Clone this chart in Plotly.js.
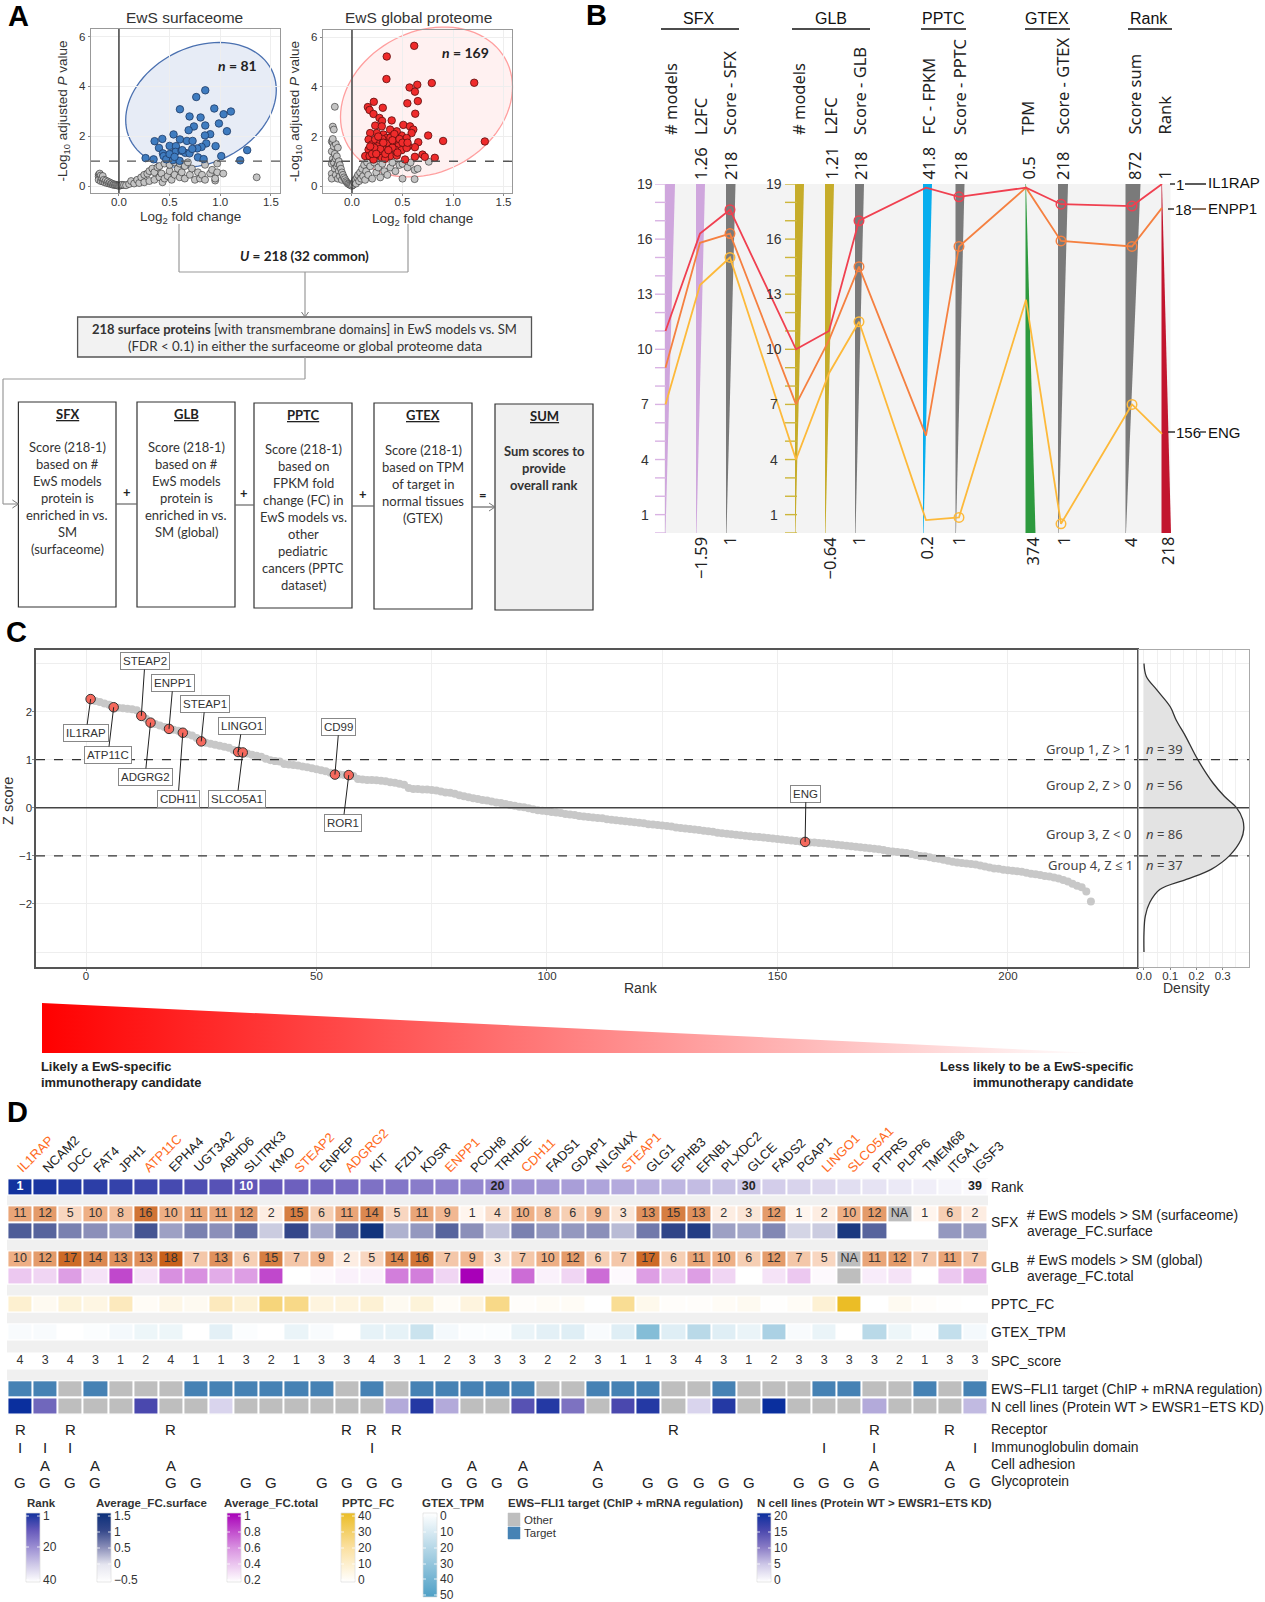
<!DOCTYPE html>
<html><head><meta charset="utf-8">
<script src="https://cdn.plot.ly/plotly-3.0.1.min.js"></script>
<style>html,body{margin:0;padding:0;background:#fff;overflow:hidden}</style></head>
<body><div id="chart" style="width:1265px;height:1602px"></div>
<script>
const W=1265,H=1602;
const SANS='"Liberation Sans",Arial,sans-serif', LATO='Lato,"Open Sans",sans-serif', NOTO='"Noto Sans","Open Sans",sans-serif';

/* ---------- Panel A data ---------- */
const surfHitX=[.852,.763,.602,.941,1.105,1.033,.697,.806,.987,.74,.688,1.066,.852,.539,.901,.849,.602,.428,.352,.671,.727,.862,.816,.954,.395,.5,.5625,.773,1.266,1.197,1.01,.263,.342,.434,.441,.533,.559,.618,.655,.697,.78,.836,.467,.533,.599,.5,.549,.625,.724];
const surfHitY=[3.84,3.57,3.08,3.11,2.99,2.88,2.79,2.75,2.51,2.39,2.24,2.2,2.43,2.07,2.08,2.03,1.87,1.89,1.8,1.81,1.81,1.71,1.57,1.6,1.53,1.61,1.6,1.51,1.44,1.03,1.2,1.12,1.07,1.31,1.2,1.31,1.37,1.41,1.33,1.31,1.15,1.08,1.07,1.04,1.01,1.28,1.17,1.44,1.49];
const surfBgX=[-.2,-.2,-.19,-.19,-.2,-.18,-.18,-.17,-.16,-.16,-.15,-.14,-.13,-.12,-.11,-.1,-.09,-.08,-.07,-.06,-.05,-.04,-.03,-.02,-.01,0,.01,.02,.03,.05,.07,.1,.12,.15,.18,.2,.22,.25,.25,.28,.3,.3,.33,.35,.35,.38,.4,.4,.42,.43,.45,.45,.48,.5,.5,.52,.55,.55,.58,.6,.6,.62,.65,.65,.68,.7,.72,.75,.78,.8,.82,.85,.85,.9,.92,.95,.97,.97,1.03,1.36,.95];
const surfBgY=[.45,.38,.5,.3,.25,.42,.2,.3,.4,.18,.25,.15,.22,.12,.18,.1,.14,.08,.1,.05,.07,.04,.05,.03,.02,.01,.02,.03,.05,.04,.03,.08,.2,.1,.25,.12,.35,.15,.45,.5,.2,.6,.7,.25,.55,.75,.35,.8,.5,.15,.3,.9,.4,.6,.85,.25,.45,.95,.7,.35,.9,.55,.3,.8,.95,.45,.7,.25,.55,.3,.45,.85,.25,.5,.65,.22,.9,.55,.5,.35,.3];
const globHitX=[.616,.344,.341,1.21,.79,.646,.57,.623,.652,.548,.216,.305,.157,.174,.213,.626,.272,.298,.393,.23,.295,.508,.574,.607,.754,.902,1.315,.656,.623,.557,.492,.59,.541,.443,.377,.311,.246,.18,.164,.197,.23,.279,.344,.393,.426,.459,.377,.311,.246,.164,.131,.174,.23,.279,.344,.426,.492,.541,.525,.623,.698,.721,.82,.377,.443,.295,.213,.328,.2,.25,.3,.35,.4,.45,.28,.33,.22,.26,.38,.42,.18,.24,.31,.36,.4,.47,.5,.55];
const globHitY=[5.66,5.23,4.32,4.17,4.16,4.09,3.98,3.81,3.43,3.34,3.4,3.16,3.19,3.07,2.91,2.92,2.75,2.63,2.65,2.44,2.41,2.47,2.41,2.28,2.04,1.82,1.8,1.77,1.57,1.61,2.04,2.14,1.94,2.21,2.28,2.08,2.14,2.14,1.88,1.68,1.88,1.74,1.94,2.01,1.81,1.61,1.61,1.47,1.41,1.47,1.21,1.21,1.21,1.27,1.34,1.47,1.45,1.54,1.07,1.18,1.27,1.18,1.14,1.21,1.23,1.14,1.07,1.1,1.3,1.6,1.9,1.75,1.55,1.35,1.5,1.3,1.55,2.0,1.95,2.1,1.6,1.3,1.75,1.45,1.85,1.9,1.75,1.75];
const globBgX=[-.2,-.19,-.2,-.19,-.2,-.2,-.2,-.18,-.18,-.17,-.17,-.16,-.16,-.16,-.15,-.15,-.14,-.14,-.14,-.13,-.13,-.12,-.12,-.11,-.1,-.1,-.09,-.08,-.07,-.06,-.05,-.04,-.03,-.02,-.01,0,-.17,-.19,-.18,-.19,.01,.02,.03,.04,.05,.06,.07,.08,.09,.1,.11,.12,.13,.14,.15,.16,.18,.2,.22,.24,.26,.28,.3,.32,.35,.38,.4,.43,.47,.5,.5,.55,.58,.62,.62,.65,.76];
const globBgY=[1.8,1.75,1.4,1.1,.9,.5,.3,1.6,.95,1.3,.7,1.7,1.1,.45,1.2,.8,1.55,.9,.3,1.0,.6,.85,.4,.7,.55,.25,.45,.35,.28,.2,.15,.1,.08,.05,.03,.01,3.2,2.4,2.28,1.9,.05,.15,.25,.1,.35,.45,.2,.55,.3,.7,.4,.85,.25,.6,.95,.45,.8,.3,.95,.55,.75,.35,.9,.6,.45,.75,.95,.6,.85,.3,.9,.75,.95,.28,.65,.7,.98];

/* ---------- Panel B data ---------- */
const axisNames=['# models','L2FC','Score - SFX','# models','L2FC','Score - GLB','FC - FPKM','Score - PPTC','TPM','Score - GTEX','Score sum','Rank'];
const axisLabelX=[671,700.5,730,799,830,860,928,960,1028,1062,1134,1164];
const axisX=[665.5,700,730,796,829,859,926,959,1026,1061,1132,1162];
const axisTop=['','1.26','218','','1.21','218','41.8','218','0.5','218','872','1'];
const axisBottom=['','−1.59','1','','−0.64','1','0.2','1','374','1','4','218'];
const axisBottomX=[0,700,729,0,829,858,926,958,1032,1063,1130,1167];
const wedgeLeft=[665,696,726,795,825,855,923,955.5,1025.5,1058,1125.5,1161.5];
const wedgeTopW=[10,9,9.5,9,9,9,9,9,0.5,10,15,0.5];
const wedgeBotW=[0.5,0.5,0.5,0.5,0.5,0.5,0.5,0.5,10,0.5,0.5,9.5];
const wedgeColor=['#cfa6dd','#cfa6dd','#7a7a7a','#c6ac2a','#c6ac2a','#7a7a7a','#08aeee','#7a7a7a','#2d9a3e','#7a7a7a','#7a7a7a','#c2152e'];
const seriesIL1RAP=[11,16.3,17.6,10,11,17,18.8,18.3,18.8,17.9,17.8,19];
const seriesENPP1=[9,15.8,16.3,7,10.5,14.5,5.3,15.6,18.8,15.9,15.6,17.7];
const seriesENG=[7,13.5,15,4,8.7,11.5,0.7,0.85,12.7,0.5,7,5.4];
const scoreAxes=[2,5,7,9,10];
const bTickVals=[0,1,2,3,4,5,6,7,8,9,10,11,12,13,14,15,16,17,18,19];
const bTickLabels=[1,4,7,10,13,16,19];

/* ---------- Panel C data ---------- */
const zScore=[2.26,2.22,2.20,2.17,2.14,2.09,2.08,2.07,2.06,2.05,2.03,1.91,1.85,1.77,1.74,1.71,1.68,1.64,1.62,1.60,1.56,1.53,1.50,1.45,1.38,1.35,1.33,1.31,1.29,1.27,1.25,1.20,1.16,1.15,1.13,1.10,1.08,1.06,1.02,0.99,0.97,0.96,0.91,0.90,0.89,0.88,0.86,0.84,0.82,0.80,0.78,0.76,0.73,0.69,0.69,0.68,0.68,0.66,0.60,0.59,0.58,0.58,0.57,0.56,0.55,0.53,0.52,0.50,0.48,0.41,0.39,0.39,0.38,0.38,0.37,0.36,0.34,0.32,0.31,0.29,0.26,0.24,0.22,0.20,0.18,0.16,0.15,0.13,0.11,0.10,0.08,0.06,0.04,0.02,0.01,-0.01,-0.03,-0.05,-0.06,-0.07,-0.09,-0.10,-0.11,-0.13,-0.14,-0.15,-0.17,-0.18,-0.19,-0.20,-0.21,-0.22,-0.24,-0.25,-0.26,-0.27,-0.28,-0.29,-0.30,-0.31,-0.32,-0.34,-0.35,-0.36,-0.37,-0.38,-0.39,-0.41,-0.42,-0.43,-0.44,-0.45,-0.46,-0.48,-0.49,-0.50,-0.52,-0.53,-0.54,-0.55,-0.56,-0.57,-0.58,-0.59,-0.60,-0.61,-0.62,-0.63,-0.64,-0.65,-0.66,-0.67,-0.68,-0.69,-0.70,-0.71,-0.72,-0.72,-0.73,-0.74,-0.75,-0.76,-0.77,-0.78,-0.79,-0.80,-0.81,-0.82,-0.83,-0.84,-0.85,-0.86,-0.88,-0.90,-0.91,-0.92,-0.93,-0.94,-0.96,-0.98,-1.00,-1.01,-1.03,-1.05,-1.06,-1.08,-1.10,-1.12,-1.14,-1.15,-1.16,-1.17,-1.18,-1.20,-1.22,-1.24,-1.26,-1.27,-1.29,-1.30,-1.31,-1.32,-1.33,-1.35,-1.37,-1.38,-1.40,-1.42,-1.43,-1.45,-1.47,-1.50,-1.53,-1.58,-1.62,-1.65,-1.74,-1.95];
const calloutNames=['IL1RAP','ATP11C','STEAP2','ADGRG2','ENPP1','CDH11','STEAP1','LINGO1','SLCO5A1','CD99','ROR1','ENG'];
const calloutRanks=[1,6,12,14,18,21,25,33,34,54,57,156];
const calloutLabelX=[86,108,145,145,173,178,205,242,237,339,343,806];
const calloutLabelY=[733,755,661,777,683,799,704,726,799,727,823,794];
const densityZ=[3.0,2.73,2.45,2.1,1.82,1.49,1.0,.52,.24,0,-.24,-.45,-.66,-1,-1.28,-1.49,-1.7,-1.97,-2.25,-2.6,-3];
const densityD=[0,.009,.049,.1,.123,.158,.205,.262,.306,.353,.376,.38,.37,.325,.256,.161,.06,.022,.005,0,0];
const groupText=['Group 1, Z > 1','Group 2, Z > 0','Group 3, Z < 0','Group 4, Z ≤ 1'];
const groupN=[39,56,86,37];

/* ---------- Panel D data ---------- */
const genes=['IL1RAP','NCAM2','DCC','FAT4','JPH1','ATP11C','EPHA4','UGT3A2','ABHD6','SLITRK3','KMO','STEAP2','ENPEP','ADGRG2','KIT','FZD1','KDSR','ENPP1','PCDH8','TRHDE','CDH11','FADS1','GDAP1','NLGN4X','STEAP1','GLG1','EPHB3','EFNB1','PLXDC2','GLCE','FADS2','PGAP1','LINGO1','SLCO5A1','PTPRS','PLPP6','TMEM68','ITGA1','IGSF3'];
const highlighted=['IL1RAP','ATP11C','STEAP2','ADGRG2','ENPP1','CDH11','STEAP1','LINGO1','SLCO5A1'];
const rankVals=genes.map((g,i)=>i+1);
const sfxCount=[11,12,5,10,8,16,10,11,11,12,2,15,6,11,14,5,11,9,1,4,10,8,6,9,3,13,15,13,2,3,12,1,2,10,12,null,1,6,2];
const fcSurface=[.85,.8,.6,.5,.4,.9,.4,.6,.5,.75,.15,1.0,.35,.8,1.4,.3,.45,.8,.5,.2,.6,.45,.45,.5,.25,.65,1.05,1.2,.4,.35,.55,.1,.15,1.3,.8,-.5,-.5,.45,.4];
const glbCount=[10,12,17,14,13,13,18,7,13,6,15,7,9,2,5,14,16,7,9,3,7,10,12,6,7,17,6,11,10,6,12,7,5,null,11,12,7,11,7];
const fcTotal=[.4,.35,.55,.3,.8,.3,.6,.6,.5,.55,.8,.2,.22,.25,.25,.65,.65,.35,1.0,.25,.7,.25,.35,.7,.22,.55,.4,.55,.35,.2,.3,.4,.22,null,.27,.3,.2,.4,.5];
const pptcFC=[10,3,8,6,14,2,5,3,14,9,26,24,7,7,9,3,8,2,7,24,1,2,2,0,22,4,1,1,2,3,.5,2,9,40,0,3,1,.5,0];
const gtexTPM=[2,2,0,1,3,5,5,0,8,1,0,6,2,0,7,7,15,3,1,1,6,8,9,2,9,35,9,20,9,6,24,2,6,0,20,5,1,17,3];
const spcScore=[4,3,4,3,1,2,4,1,1,3,2,1,3,3,4,3,1,2,3,3,3,2,2,3,1,1,3,4,3,1,2,3,3,3,3,2,1,3,3];
const ewsTarget=[1,1,0,1,0,0,0,1,1,1,1,1,1,0,1,0,1,1,1,1,1,0,0,1,1,1,0,0,1,0,0,0,1,1,0,0,1,0,1];
const nCellLines=[20,12,null,null,null,15,null,null,4,null,null,null,null,null,null,7,18,7,null,null,14,18,11,null,15,18,null,4,18,null,20,null,null,null,7,null,null,null,6];
const rowPos=[.52,2.09,3.08,4.71,5.7,7.33,8.95,10.64,12.26,13.26];
const receptorIdx=[0,2,6,13,14,15,26,34,37];
const immunoIdx=[0,1,2,14,32,34,38];
const adhesionIdx=[1,3,6,18,20,23,34,37];
const glycoIdx=[0,1,2,3,6,7,9,10,12,13,14,15,17,18,19,20,23,25,26,27,28,29,31,32,33,34,37,38];
const csRank=[[0,'#12329e'],[.25,'#6659bb'],[.5,'#9c8fd3'],[.75,'#cfc9e8'],[1,'#ffffff']];
const csSurface=[[0,'#ffffff'],[.25,'#e6e6f0'],[.5,'#8b8fb9'],[.75,'#34478a'],[1,'#0a2f7a']];
const csTotal=[[0,'#ffffff'],[.5,'#d890e0'],[1,'#a800b8']];
const csPPTC=[[0,'#ffffff'],[.5,'#fbe0a0'],[1,'#ebbd26']];
const csGTEX=[[0,'#ffffff'],[1,'#4fa0c6']];
const csN=[[0,'#ffffff'],[.25,'#cfc9e8'],[.5,'#8a7cc6'],[.75,'#4a48ae'],[1,'#0a2f9e']];
const csCount=[[0,'#fff5ee'],[.5,'#f0b48c'],[1,'#c8601a']];

/* ---------- helpers ---------- */
const X=x=>x/W, Y=y=>1-y/H;
const domX=(a,b)=>[a/W,b/W], domY=(a,b)=>[1-b/H,1-a/H];
const traces=[],shapes=[],ann=[];
function T(text,x,y,o={}){const{size=13,color='#222',family=SANS,xa='center',ya='middle',angle=0}=o;
  ann.push({text,xref:'paper',yref:'paper',x:X(x),y:Y(y),xanchor:xa,yanchor:ya,textangle:angle,showarrow:false,font:{size,color,family},borderpad:0,borderwidth:0});}
function L(x0,y0,x1,y1,color='#888',width=1.2,dash='solid',layer='above'){shapes.push({type:'line',xref:'paper',yref:'paper',x0:X(x0),y0:Y(y0),x1:X(x1),y1:Y(y1),line:{color,width,dash},layer});}
function R(x0,y0,x1,y1,line,fill,width=1.2,layer='below'){shapes.push({type:'rect',xref:'paper',yref:'paper',x0:X(x0),y0:Y(y0),x1:X(x1),y1:Y(y1),line:{color:line,width},fillcolor:fill,layer});}
function chevron(x,y){L(x-6,y-4,x,y,'#777',1);L(x-6,y+4,x,y,'#777',1);}
function ellipse(cx,cy,hx,hy,r,stroke,fill){let p=[];const s=Math.sqrt(1-r*r);
  for(let i=0;i<90;i++){const t=i/90*2*Math.PI;const x=cx+hx*Math.cos(t),y=cy+hy*(r*Math.cos(t)+s*Math.sin(t));p.push((i?'L':'M')+X(x).toFixed(5)+' '+Y(y).toFixed(5));}
  shapes.push({type:'path',xref:'paper',yref:'paper',path:p.join(' ')+' Z',line:{color:stroke,width:1.3},fillcolor:fill,layer:'below'});}

/* ---------- Panel A ---------- */
ellipse(201,105,75.3,62.5,-0.24,'#4a70b0','rgba(70,110,185,0.13)');
ellipse(426.5,102,86,75,-0.2,'#ff9f9f','rgba(255,190,190,0.22)');
const GRAYDOT={color:'#c4c4c4',size:7,line:{color:'rgba(30,30,30,0.8)',width:0.7}};
function sc(xa,ya,x,y,marker){traces.push({type:'scatter',mode:'markers',x,y,xaxis:xa,yaxis:ya,marker,hoverinfo:'skip',showlegend:false});}
sc('x','y',surfBgX,surfBgY,GRAYDOT);
sc('x','y',surfHitX,surfHitY,{color:'#3f7cc0',size:7.5,line:{color:'#1d3a66',width:0.8}});
sc('x2','y2',globBgX,globBgY,GRAYDOT);
sc('x2','y2',globHitX,globHitY,{color:'#ef2b2b',size:7.5,line:{color:'#5a0d0d',width:0.8}});
T('EwS surfaceome',185,17,{size:15.5,color:'#333'});
T('EwS global proteome',418,17,{size:15.5,color:'#333'});
T('Log<sub>2</sub> fold change',190,217,{size:13.5,color:'#333'});
T('Log<sub>2</sub> fold change',422,219,{size:13.5,color:'#333'});
T('<b><i>n</i> = 81</b>',237,66,{size:14,family:LATO,color:'#222'});
T('<b><i>n</i> = 169</b>',465,53,{size:14,family:LATO,color:'#222'});
[['x domain','y'],['x2 domain','y2']].forEach(([a,b])=>shapes.push({type:'line',xref:a,yref:b,x0:0,x1:1,y0:1,y1:1,line:{color:'#555',width:1.4,dash:'dash'}}));
[['x','y domain'],['x2','y2 domain']].forEach(([a,b])=>shapes.push({type:'line',xref:a,yref:b,x0:0,x1:0,y0:0,y1:1,line:{color:'#333',width:1.4}}));

/* flow diagram */
const G='#999';
L(179,224,179,272,G);L(408,224,408,272,G);L(179,272,408,272,G);
T('<b><i>U</i> = 218 (32 common)</b>',304.5,256,{size:13.5,family:LATO,color:'#222'});
L(305,272,305,317,G);
L(301.5,312,305,317,'#777',1);L(308.5,312,305,317,'#777',1);
R(77.6,317,531.5,357,'#555','#f2f2f2',1.3);
T('<b>218 surface proteins</b> [with transmembrane domains] in EwS models vs. SM',304.5,329,{size:13,family:LATO,color:'#333'});
T('(FDR < 0.1) in either the surfaceome or global proteome data',304.5,346,{size:13.3,family:LATO,color:'#333'});
L(305,357,305,379,G);L(305,379,3,379,G);L(3,379,3,504,G);L(3,504,18.4,504,G);chevron(18.4,504);
const boxes=[
 {x0:18.4,x1:116,y0:402,y1:607,title:'SFX',t0:447,lines:['Score (218-1)','based on #','EwS models','protein is','enriched in vs.','SM','(surfaceome)']},
 {x0:137,x1:235,y0:402,y1:607,title:'GLB',t0:447,lines:['Score (218-1)','based on #','EwS models','protein is','enriched in vs.','SM (global)']},
 {x0:254,x1:352,y0:403,y1:608,title:'PPTC',t0:449,lines:['Score (218-1)','based on','FPKM fold','change (FC) in','EwS models vs.','other','pediatric','cancers (PPTC','dataset)']},
 {x0:374,x1:472,y0:403,y1:609,title:'GTEX',t0:450,lines:['Score (218-1)','based on TPM','of target in','normal tissues','(GTEX)']},
 {x0:495,x1:593,y0:404,y1:610,title:'SUM',t0:451,fill:'#f0f0f0',bold:true,lines:['Sum scores to','provide','overall rank']}];
boxes.forEach(b=>{R(b.x0,b.y0,b.x1,b.y1,'#333',b.fill||'#ffffff',1.2);
  T('<b><u>'+b.title+'</u></b>',(b.x0+b.x1)/2,b.y0+12,{size:13,family:LATO,color:'#222'});
  b.lines.forEach((s,i)=>T(b.bold?'<b>'+s+'</b>':s,(b.x0+b.x1)/2,b.t0+i*17,{size:13,family:LATO,color:'#333'}));});
L(116,504,137,504,'#666');L(235,505,254,505,'#666');L(352,506,374,506,'#666');L(472,507,495,507,'#666');chevron(495,507);
T('<b>+</b>',127,492,{size:13,family:LATO});T('<b>+</b>',244,493,{size:13,family:LATO});T('<b>+</b>',363,494,{size:13,family:LATO});T('<b>=</b>',483,495,{size:13,family:LATO});

/* ---------- Panel B ---------- */
shapes.push({type:'rect',xref:'x3',yref:'y3',x0:664,x1:1170.5,y0:0,y1:19,line:{width:0},fillcolor:'#f3f3f3',layer:'below'});
axisX.forEach((_,i)=>{const l=wedgeLeft[i];
 traces.push({type:'scatter',mode:'lines',xaxis:'x3',yaxis:'y3',x:[l,l+wedgeTopW[i],l+wedgeBotW[i],l,l],y:[19,19,0,0,19],fill:'toself',fillcolor:wedgeColor[i],line:{width:0,color:wedgeColor[i]},hoverinfo:'skip',showlegend:false});});
function tickTrace(x0,x1,color){const xs=[],ys=[];bTickVals.forEach(v=>{xs.push(x0,x1,null);ys.push(v,v,null);});
 traces.push({type:'scatter',mode:'lines',xaxis:'x3',yaxis:'y3',x:xs,y:ys,line:{color,width:1.4},hoverinfo:'skip',showlegend:false});}
tickTrace(655,666,'#d9b3e3');tickTrace(785,797,'#cdb63a');
[[seriesENG,'#fdb93a'],[seriesENPP1,'#f58040'],[seriesIL1RAP,'#f04050']].forEach(([s,c])=>{
 traces.push({type:'scatter',mode:'lines',xaxis:'x3',yaxis:'y3',x:axisX,y:s,line:{color:c,width:1.8},hoverinfo:'skip',showlegend:false});
 traces.push({type:'scatter',mode:'markers',xaxis:'x3',yaxis:'y3',x:scoreAxes.map(i=>axisX[i]),y:scoreAxes.map(i=>s[i]),marker:{symbol:'circle-open',size:9.5,color:c,line:{color:c,width:1.5}},hoverinfo:'skip',showlegend:false});});
bTickLabels.forEach(v=>{const y=533-v*18.37;T(String(v),645,y,{size:14,color:'#333'});T(String(v),774,y,{size:14,color:'#333'});});
[['SFX',698,661,739],['GLB',831,792,870],['PPTC',943,921,966],['GTEX',1047,1025,1070],['Rank',1149,1128,1172]].forEach(([t,c,a,b])=>{T(t,c,18,{size:16,color:'#111'});L(a,29,b,29,'#111',1.6);});
axisNames.forEach((n,i)=>{T(n,axisLabelX[i],135,{size:16.5,family:NOTO,color:'#222',angle:-90,ya:'bottom'});
 if(axisTop[i])T(axisTop[i],axisLabelX[i]+(i==4?1:0),180,{size:16.5,family:NOTO,color:'#222',angle:-90,ya:'bottom'});
 if(axisBottom[i])T(axisBottom[i],axisBottomX[i],537,{size:16.5,family:NOTO,color:'#222',angle:-90,ya:'top'});});
const RF={size:15,color:'#111'};
L(1170,184,1175,184,'#222',1.4);T('1',1180,184,RF);L(1185,184,1206,184,'#333',1.6);T('IL1RAP',1208,183,{...RF,xa:'left'});
L(1168,209,1174,209,'#222',1.4);T('18',1183,210,RF);L(1192,209,1206,209,'#6b4a34',1.6);T('ENPP1',1208,209,{...RF,xa:'left'});
L(1168,432,1175,432,'#222',1.4);T('156',1188,432,RF);L(1200,432,1206,432,'#333',1.4);T('ENG',1208,432,{...RF,xa:'left'});

/* ---------- Panel C ---------- */
const ranks=zScore.map((z,i)=>i+1);
sc('x4','y4',ranks,zScore,{color:'#c8c8c8',size:8});
sc('x4','y4',calloutRanks,calloutRanks.map(r=>zScore[r-1]),{color:'#f5695d',size:9.5,line:{color:'#333',width:1}});
calloutNames.forEach((n,i)=>{const r=calloutRanks[i],z=zScore[r-1];
 const px=86+r*4.61,py=808-z*48.2;
 ann.push({text:n,xref:'x4',yref:'y4',x:r,y:z,ax:calloutLabelX[i]-px,ay:calloutLabelY[i]-py,showarrow:true,arrowhead:0,arrowwidth:1,arrowcolor:'#222',standoff:0,bgcolor:'#ffffff',bordercolor:'#888',borderwidth:1,borderpad:2,font:{size:11.5,family:SANS,color:'#333'}});});
traces.push({type:'scatter',mode:'lines',xaxis:'x5',yaxis:'y5',x:densityD,y:densityZ,fill:'tozerox',fillcolor:'#e3e3e3',line:{color:'#333',width:1.3,shape:'spline'},hoverinfo:'skip',showlegend:false});
[['x4 domain','y4'],['x5 domain','y5']].forEach(([a,b])=>{
 [1,-1].forEach(v=>shapes.push({type:'line',xref:a,yref:b,x0:0,x1:1,y0:v,y1:v,line:{color:'#333',width:1.3,dash:'dash'}}));
 shapes.push({type:'line',xref:a,yref:b,x0:0,x1:1,y0:0,y1:0,line:{color:'#444',width:1.4}});});
[749,785,834,865].forEach((y,i)=>{T(groupText[i],i==3?1133:1131,y,{size:13,color:'#444',xa:'right',family:NOTO});T('<i>n</i> = '+groupN[i],1146,y,{size:13,color:'#444',xa:'left',family:NOTO});});
T('Rank',641,988,{size:14,color:'#333'});
T('Density',1186,988,{size:14,color:'#333'});
T('Z score',8,801,{size:14.5,color:'#333',angle:-90});

/* gradient triangle */
traces.push({type:'scatter',mode:'lines',xaxis:'x7',yaxis:'y7',x:[42,1095,42,42],y:[1003,1053,1053,1003],fill:'toself',fillgradient:{type:'horizontal',colorscale:[[0,'#ff0000'],[1,'#ffffff']]},line:{width:0},hoverinfo:'skip',showlegend:false});
T('<b>Likely a EwS-specific</b>',40.5,1066,{size:12.9,xa:'left',color:'#222'});
T('<b>immunotherapy candidate</b>',40.5,1082,{size:12.9,xa:'left',color:'#222'});
T('<b>Less likely to be a EwS-specific</b>',1133,1066,{size:12.9,xa:'right',color:'#222'});
T('<b>immunotherapy candidate</b>',1133,1082,{size:12.9,xa:'right',color:'#222'});

/* ---------- Panel D ---------- */
const colIdx=genes.map((g,i)=>i);
const XR=[-0.517,38.52];
function strip(a,b){shapes.push({type:'rect',xref:'x6',yref:'y6',x0:XR[0],x1:XR[1],y0:rowPos[a]-.5,y1:rowPos[b]+.5,line:{width:0},fillcolor:'#ffffff',layer:'below'});}
shapes.push({type:'rect',xref:'x6',yref:'y6',x0:XR[0],x1:XR[1],y0:0,y1:13.78,line:{width:0},fillcolor:'#f0f0f0',layer:'below'});
[[0,0],[1,2],[3,4],[5,5],[6,6],[7,7],[8,9]].forEach(([a,b])=>strip(a,b));
function hm(row,z,cs,zmin,zmax){traces.push({type:'heatmap',xaxis:'x6',yaxis:'y6',x:colIdx,y:[rowPos[row]],z:[z],colorscale:cs,zmin,zmax,showscale:false,xgap:2,ygap:2,hoverinfo:'skip'});
 const na=z.map(v=>v===null?1:null);
 if(na.some(v=>v))traces.push({type:'heatmap',xaxis:'x6',yaxis:'y6',x:colIdx,y:[rowPos[row]],z:[na],colorscale:[[0,'#bebebe'],[1,'#bebebe']],zmin:0,zmax:1,showscale:false,xgap:2,ygap:2,hoverinfo:'skip'});}
hm(0,rankVals,csRank,1,40);hm(1,sfxCount,csCount,1,18);hm(2,fcSurface,csSurface,-.5,1.5);hm(3,glbCount,csCount,1,18);hm(4,fcTotal,csTotal,.2,1);
hm(5,pptcFC,csPPTC,0,40);hm(6,gtexTPM,csGTEX,0,50);hm(8,ewsTarget,[[0,'#bebebe'],[1,'#4682b4']],0,1);hm(9,nCellLines,csN,0,20);
function cellText(row,vals,color='#333'){traces.push({type:'scatter',mode:'text',xaxis:'x6',yaxis:'y6',x:colIdx,y:colIdx.map(()=>rowPos[row]),text:vals.map(v=>v===null?'NA':String(v)),textfont:{size:12.5,family:SANS,color},textposition:'middle center',hoverinfo:'skip',showlegend:false});}
cellText(1,sfxCount);cellText(3,glbCount);cellText(7,spcScore);
const rankLabelIdx=[0,9,19,29,38];
traces.push({type:'scatter',mode:'text',xaxis:'x6',yaxis:'y6',x:rankLabelIdx,y:rankLabelIdx.map(()=>rowPos[0]),text:rankLabelIdx.map(i=>'<b>'+rankVals[i]+'</b>'),textfont:{size:12.5,family:SANS,color:rankLabelIdx.map(i=>i<10?'#ffffff':'#222')},textposition:'middle center',hoverinfo:'skip',showlegend:false});
genes.forEach((g,i)=>ann.push({text:g,xref:'x6',yref:'paper',x:i-.32,y:Y(1178),xanchor:'left',yanchor:'bottom',textangle:-45,showarrow:false,font:{size:13,family:SANS,color:highlighted.includes(g)?'#ff6a22':'#222'}}));
[[receptorIdx,'R',1429],[immunoIdx,'I',1447],[adhesionIdx,'A',1465],[glycoIdx,'G',1482]].forEach(([idx,ch,y])=>{
 idx.forEach(i=>T(ch,20+25.13*i,y,{size:15,color:'#222'}));});
const RL=991;
[['Rank',1187],['PPTC_FC',1304],['GTEX_TPM',1332],['SPC_score',1361],['EWS−FLI1 target (ChIP + mRNA regulation)',1389],['N cell lines (Protein WT > EWSR1−ETS KD)',1407],['Receptor',1429],['Immunoglobulin domain',1447],['Cell adhesion',1464],['Glycoprotein',1481]].forEach(([t,y])=>T(t,RL,y,{size:13.9,xa:'left'}));
T('SFX',RL,1222,{size:14,xa:'left'});T('GLB',RL,1267,{size:14,xa:'left'});
T('# EwS models > SM (surfaceome)',1027,1215,{size:13.9,xa:'left'});T('average_FC.surface',1027,1231,{size:13.9,xa:'left'});
T('# EwS models > SM (global)',1027,1260,{size:13.9,xa:'left'});T('average_FC.total',1027,1276,{size:13.9,xa:'left'});

/* legends: fillgradient position 0 sits at the bottom of the bar on this page axis */
function cbar(title,tx,bx,labels,ys,cs,bottom=1582){
 T('<b>'+title+'</b>',tx,1503,{size:11.5,xa:'left',color:'#333'});
 traces.push({type:'scatter',mode:'lines',xaxis:'x7',yaxis:'y7',x:[bx,bx+14,bx+14,bx,bx],y:[1513,1513,bottom,bottom,1513],fill:'toself',fillgradient:{type:'vertical',colorscale:cs},line:{color:'#ddd',width:0.7},hoverinfo:'skip',showlegend:false});
 labels.forEach((l,i)=>{T(l,bx+17,ys[i],{size:12,xa:'left',color:'#333'});
  L(bx,ys[i],bx+3,ys[i],'#ffffff',.8);L(bx+11,ys[i],bx+14,ys[i],'#ffffff',.8);});}
const flip=cs=>cs.map(([p,c])=>[1-p,c]).reverse();
const leg5=[1516,1532,1548,1564,1580];
cbar('Rank',27,26,['1','20','40'],[1516,1547,1580],flip(csRank));
cbar('Average_FC.surface',96,97,['1.5','1','0.5','0','−0.5'],leg5,csSurface);
cbar('Average_FC.total',224,227,['1','0.8','0.6','0.4','0.2'],leg5,csTotal);
cbar('PPTC_FC',342,341,['40','30','20','10','0'],leg5,csPPTC);
cbar('GTEX_TPM',422,423,['0','10','20','30','40','50'],[1516,1532,1548,1564,1579,1595],flip(csGTEX),1597);
cbar('N cell lines (Protein WT > EWSR1−ETS KD)',757,757,['20','15','10','5','0'],leg5,csN);
T('<b>EWS−FLI1 target (ChIP + mRNA regulation)</b>',508,1503,{size:11.5,xa:'left',color:'#333'});
R(508,1513,520,1526,'#bebebe','#bebebe',.5);R(508,1527,520,1539,'#4682b4','#4682b4',.5);
T('Other',524,1520,{size:11.5,xa:'left',color:'#333'});T('Target',524,1533,{size:11.5,xa:'left',color:'#333'});

/* panel letters */
[['A',18,16],['B',596,15],['C',16,632],['D',17,1112]].forEach(([t,x,y])=>T('<b>'+t+'</b>',x,y,{size:29,color:'#000'}));

/* ---------- axes ---------- */
const TF={size:11.5,family:SANS,color:'#333'};
function frame(o){return Object.assign({showline:true,mirror:true,linecolor:'#999',linewidth:1.2,gridcolor:'#eeeeee',gridwidth:1,zeroline:false,ticks:'outside',ticklen:2,tickcolor:'#888',tickfont:TF,fixedrange:true},o);}
const hidden=o=>Object.assign({visible:false,fixedrange:true,showgrid:false,zeroline:false},o);
const layout={width:W,height:H,margin:{l:0,r:0,t:0,b:0},paper_bgcolor:'#ffffff',plot_bgcolor:'rgba(0,0,0,0)',showlegend:false,hovermode:false,shapes,annotations:ann,font:{family:SANS},
 xaxis:frame({domain:domX(91,280),range:[-.276,1.59],anchor:'y',tickvals:[0,.5,1,1.5],ticktext:['0.0','0.5','1.0','1.5'],ticklabelstandoff:-4}),
 yaxis:frame({domain:domY(29,193),range:[-.28,6.3],anchor:'x',tickvals:[0,2,4,6],title:{text:'-Log<sub>10</sub> adjusted <i>P</i> value',font:{size:13.5,color:'#333'},standoff:8}}),
 xaxis2:frame({domain:domX(323,512),range:[-.287,1.584],anchor:'y2',tickvals:[0,.5,1,1.5],ticktext:['0.0','0.5','1.0','1.5'],ticklabelstandoff:-4}),
 yaxis2:frame({domain:domY(30,193),range:[-.28,6.3],anchor:'x2',tickvals:[0,2,4,6],title:{text:'-Log<sub>10</sub> adjusted <i>P</i> value',font:{size:13.5,color:'#333'},standoff:8}}),
 xaxis3:hidden({domain:domX(640,1180),range:[640,1180],anchor:'y3'}),
 yaxis3:hidden({domain:domY(184,533),range:[0,19],anchor:'x3'}),
 xaxis4:frame({domain:domX(36,1137),range:[-10.85,228],anchor:'y4',linecolor:'#555',linewidth:1.6,tickvals:[0,50,100,150,200],minor:{tickvals:[25,75,125,175,225],showgrid:true,gridcolor:'#f0f0f0',ticks:''},ticklabelstandoff:-4}),
 yaxis4:frame({domain:domY(650,967),range:[-3.31,3.28],anchor:'x4',linecolor:'#555',linewidth:1.6,tickvals:[-2,-1,0,1,2],ticktext:['−2','−1','0','1','2'],minor:{tickvals:[-3,3],showgrid:true,gridcolor:'#eeeeee',ticks:''},ticklabelstandoff:-2}),
 xaxis5:frame({domain:domX(1139,1249),range:[-.019,.4],anchor:'y5',linecolor:'#aaa',tickvals:[0,.1,.2,.3],ticktext:['0.0','0.1','0.2','0.3'],minor:{tickvals:[.05,.15,.25,.35],showgrid:true,gridcolor:'#f0f0f0',ticks:''},ticklabelstandoff:-4}),
 yaxis5:frame({domain:domY(650,967),range:[-3.31,3.28],anchor:'x5',linecolor:'#aaa',tickvals:[-2,-1,0,1,2],showticklabels:false,ticks:'',minor:{tickvals:[-3,3],showgrid:true,gridcolor:'#eeeeee',ticks:''}}),
 xaxis6:hidden({domain:domX(7,988),range:XR,anchor:'y6'}),
 yaxis6:hidden({domain:domY(1178,1415),range:[13.78,0],anchor:'x6'}),
 xaxis7:hidden({domain:[0,1],range:[0,W],anchor:'y7'}),
 yaxis7:hidden({domain:[0,1],range:[H,0],anchor:'x7'})
};
Plotly.newPlot('chart',traces,layout,{displayModeBar:false,staticPlot:true,responsive:false});
</script></body></html>
